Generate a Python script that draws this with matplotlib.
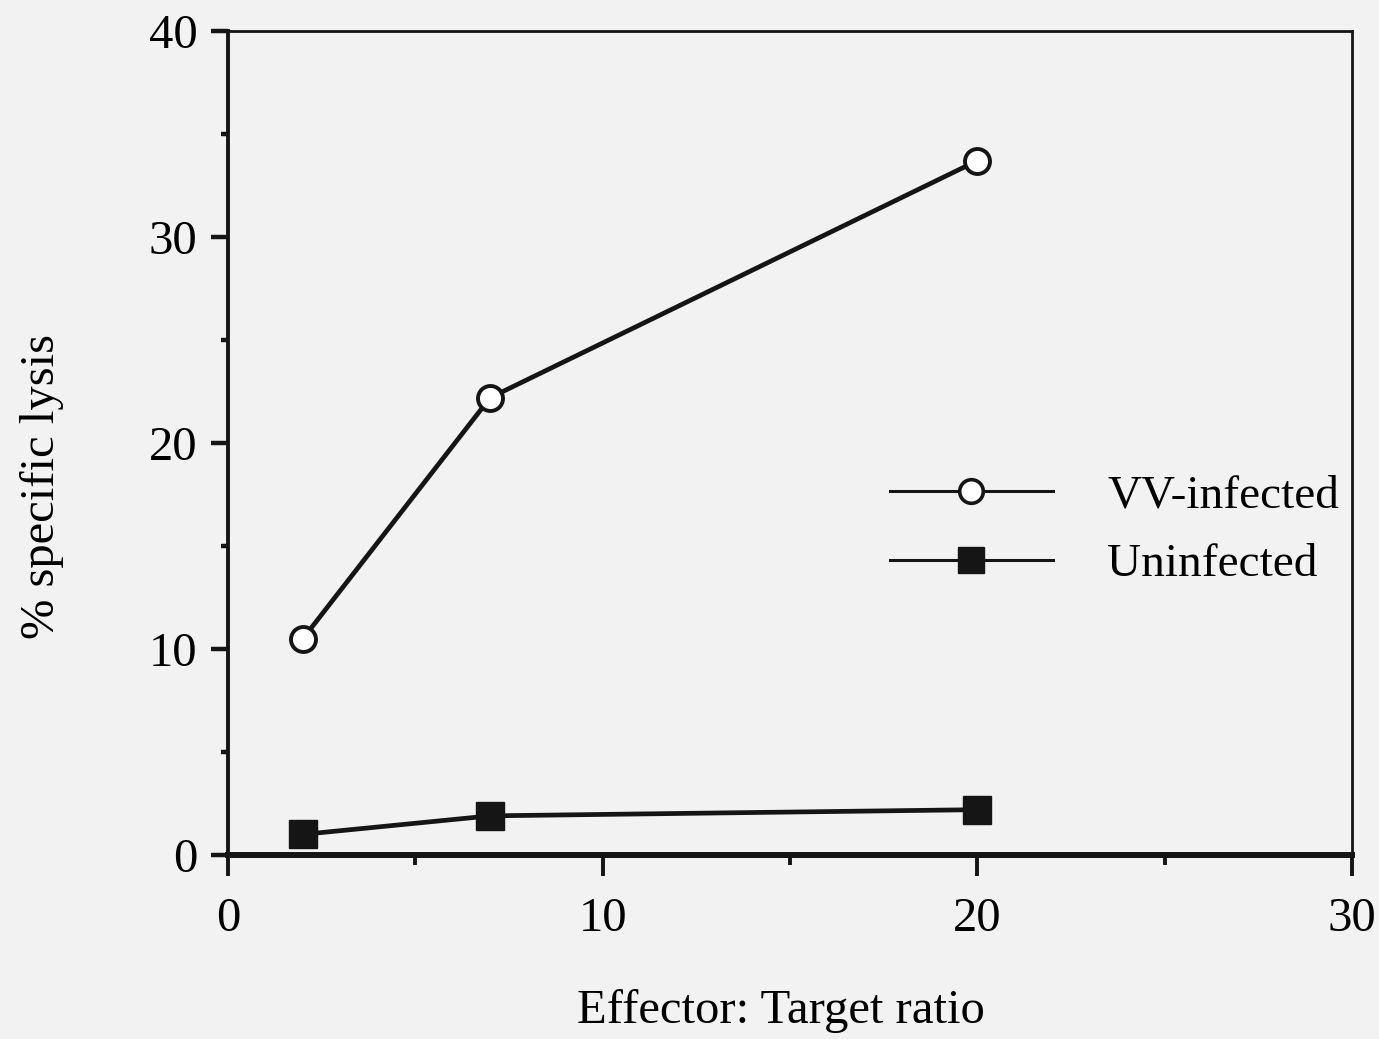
import matplotlib
matplotlib.use('Agg')
from matplotlib import pyplot as plt
from matplotlib.lines import Line2D
from matplotlib.ticker import MultipleLocator

# effector:target ratios and % specific lysis
ratio = [2, 7, 20]
vv_infected = [10.5, 22.2, 33.7]
uninfected = [1.0, 1.9, 2.2]

plt.rcParams['font.family'] = ['Liberation Serif', 'DejaVu Serif']

ink = '#151515'
bg = '#f2f2f2'
fig = plt.figure(figsize=(13.79, 10.39), dpi=100, facecolor=bg)
ax = fig.add_axes([0.1653, 0.1771, 0.8151, 0.7931], facecolor=bg)

ax.plot(ratio, vv_infected, color=ink, lw=3.4, marker='o', ms=18,
        mfc='white', mec=ink, mew=2.8, zorder=3)
ax.plot(ratio, uninfected, color=ink, lw=3.4, marker='s', ms=20,
        mfc=ink, mec=ink, zorder=3)

ax.set_xlim(0, 30)
ax.set_ylim(0, 40)
ax.xaxis.set_major_locator(MultipleLocator(10))
ax.xaxis.set_minor_locator(MultipleLocator(5))
ax.yaxis.set_major_locator(MultipleLocator(10))
ax.yaxis.set_minor_locator(MultipleLocator(5))

for side in ['top', 'right']:
    ax.spines[side].set_linewidth(2.0)
    ax.spines[side].set_color(ink)
ax.spines['left'].set_linewidth(2.8)
ax.spines['left'].set_color(ink)
ax.spines['bottom'].set_linewidth(4.3)
ax.spines['bottom'].set_color(ink)

ax.tick_params(axis='x', which='major', direction='out', length=15, width=2.8,
               labelsize=35, pad=15, color=ink)
ax.tick_params(axis='x', which='minor', direction='out', length=7, width=2.8,
               color=ink)
ax.tick_params(axis='y', which='major', direction='out', length=12, width=3.2,
               labelsize=35, pad=10, color=ink)
ax.tick_params(axis='y', which='minor', direction='out', length=5, width=3.2,
               color=ink)

ax.set_xlabel('Effector: Target ratio', fontsize=35, va='baseline')
ax.xaxis.set_label_coords(0.492, -0.2036)
ax.set_ylabel('% specific lysis', fontsize=35, va='baseline')
ax.yaxis.set_label_coords(-0.155, 0.447)

handles = [
    Line2D([], [], color=ink, lw=2.2, marker='o', ms=17, mfc='white',
           mec=ink, mew=2.6),
    Line2D([], [], color=ink, lw=2.2, marker='s', ms=19, mfc=ink,
           mec=ink),
]
ax.legend(handles, ['VV-infected', 'Uninfected'], frameon=False, fontsize=34,
          handlelength=3.45, handletextpad=1.15, labelspacing=0.55,
          loc='upper left', bbox_to_anchor=(0.572, 0.485), borderaxespad=0)

fig.savefig('out.png', dpi=100, facecolor=bg)
